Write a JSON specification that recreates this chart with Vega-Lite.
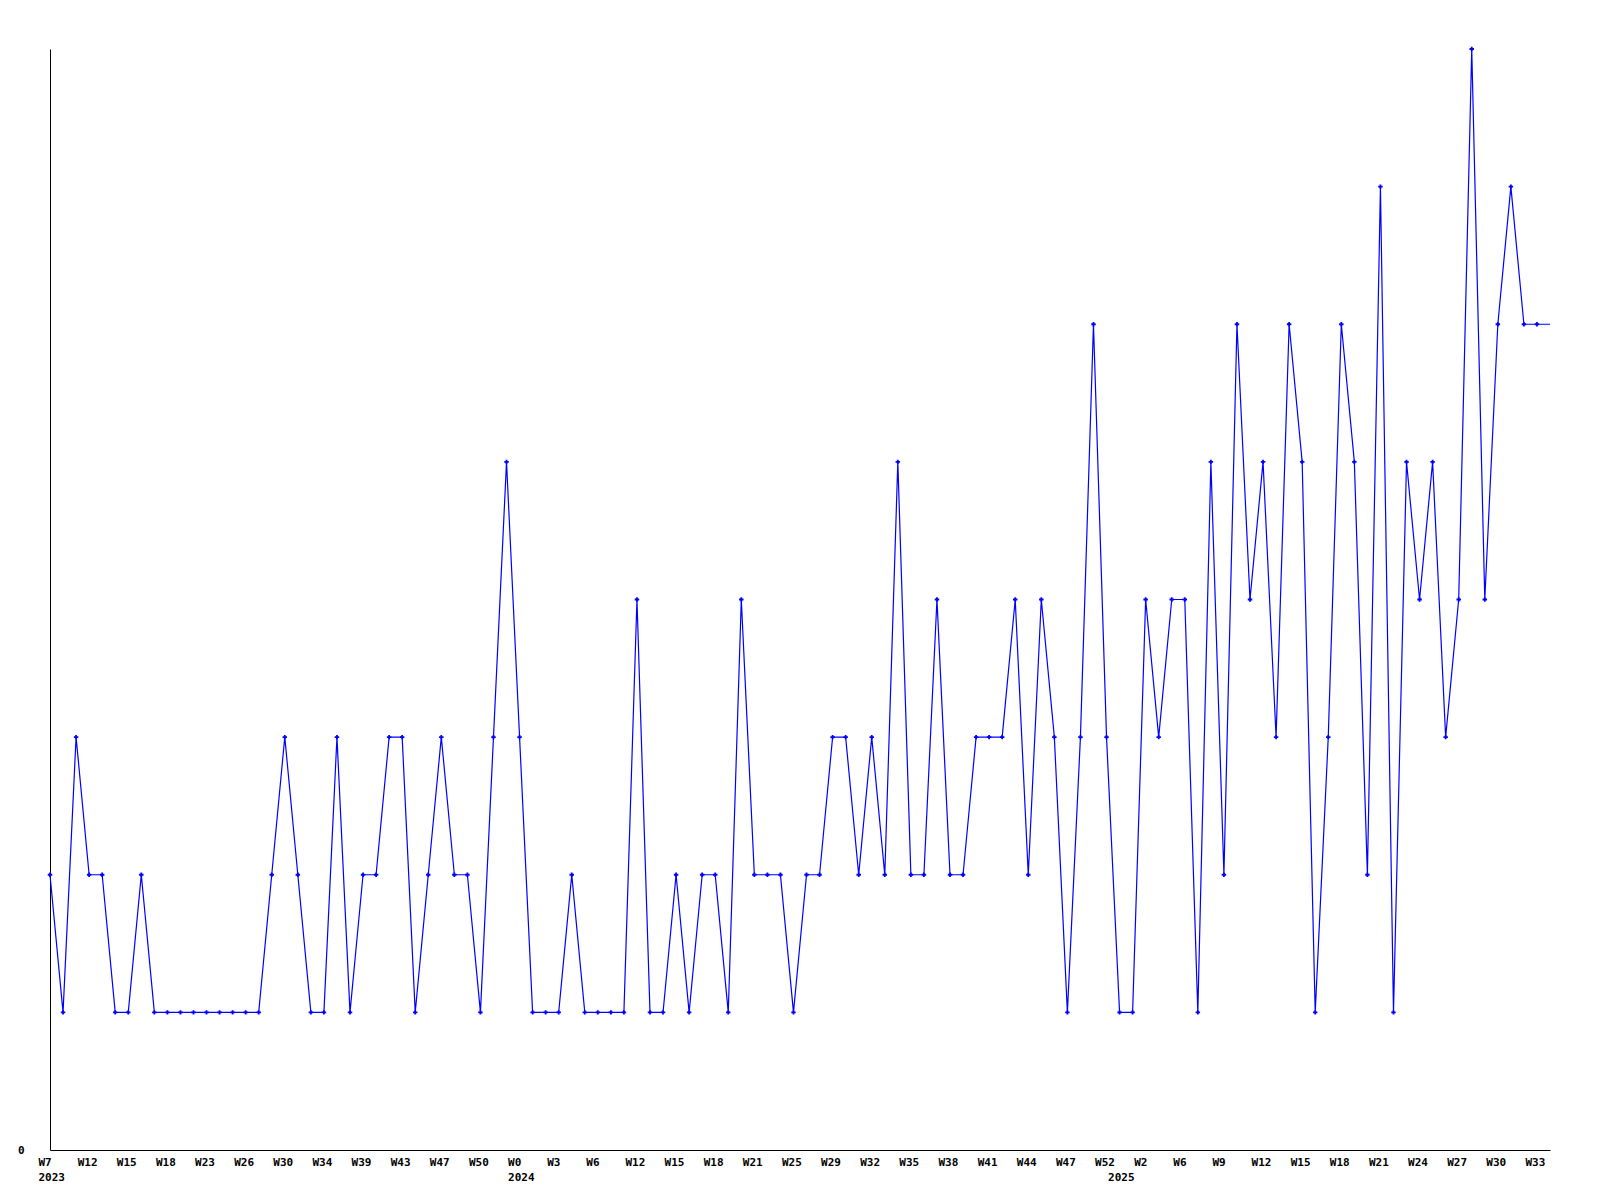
{
  "$schema": "https://vega.github.io/schema/vega-lite/v6.json",
  "width": 1500,
  "height": 1101,
  "autosize": {"type": "none"},
  "padding": {"left": 50, "top": 49, "right": 50, "bottom": 50},
  "background": "white",
  "config": {"view": {"stroke": null}},
  "data": {"values": [
    {"i":0,"v":2},{"i":1,"v":1},{"i":2,"v":3},{"i":3,"v":2},{"i":4,"v":2},{"i":5,"v":1},{"i":6,"v":1},{"i":7,"v":2},{"i":8,"v":1},{"i":9,"v":1},
    {"i":10,"v":1},{"i":11,"v":1},{"i":12,"v":1},{"i":13,"v":1},{"i":14,"v":1},{"i":15,"v":1},{"i":16,"v":1},{"i":17,"v":2},{"i":18,"v":3},{"i":19,"v":2},
    {"i":20,"v":1},{"i":21,"v":1},{"i":22,"v":3},{"i":23,"v":1},{"i":24,"v":2},{"i":25,"v":2},{"i":26,"v":3},{"i":27,"v":3},{"i":28,"v":1},{"i":29,"v":2},
    {"i":30,"v":3},{"i":31,"v":2},{"i":32,"v":2},{"i":33,"v":1},{"i":34,"v":3},{"i":35,"v":5},{"i":36,"v":3},{"i":37,"v":1},{"i":38,"v":1},{"i":39,"v":1},
    {"i":40,"v":2},{"i":41,"v":1},{"i":42,"v":1},{"i":43,"v":1},{"i":44,"v":1},{"i":45,"v":4},{"i":46,"v":1},{"i":47,"v":1},{"i":48,"v":2},{"i":49,"v":1},
    {"i":50,"v":2},{"i":51,"v":2},{"i":52,"v":1},{"i":53,"v":4},{"i":54,"v":2},{"i":55,"v":2},{"i":56,"v":2},{"i":57,"v":1},{"i":58,"v":2},{"i":59,"v":2},
    {"i":60,"v":3},{"i":61,"v":3},{"i":62,"v":2},{"i":63,"v":3},{"i":64,"v":2},{"i":65,"v":5},{"i":66,"v":2},{"i":67,"v":2},{"i":68,"v":4},{"i":69,"v":2},
    {"i":70,"v":2},{"i":71,"v":3},{"i":72,"v":3},{"i":73,"v":3},{"i":74,"v":4},{"i":75,"v":2},{"i":76,"v":4},{"i":77,"v":3},{"i":78,"v":1},{"i":79,"v":3},
    {"i":80,"v":6},{"i":81,"v":3},{"i":82,"v":1},{"i":83,"v":1},{"i":84,"v":4},{"i":85,"v":3},{"i":86,"v":4},{"i":87,"v":4},{"i":88,"v":1},{"i":89,"v":5},
    {"i":90,"v":2},{"i":91,"v":6},{"i":92,"v":4},{"i":93,"v":5},{"i":94,"v":3},{"i":95,"v":6},{"i":96,"v":5},{"i":97,"v":1},{"i":98,"v":3},{"i":99,"v":6},
    {"i":100,"v":5},{"i":101,"v":2},{"i":102,"v":7},{"i":103,"v":1},{"i":104,"v":5},{"i":105,"v":4},{"i":106,"v":5},{"i":107,"v":3},{"i":108,"v":4},{"i":109,"v":8},
    {"i":110,"v":4},{"i":111,"v":6},{"i":112,"v":7},{"i":113,"v":6},{"i":114,"v":6},{"i":115,"v":6}
  ]},
  "encoding": {
    "x": {
      "field": "i", "type": "quantitative",
      "scale": {"domain": [0, 115], "nice": false, "zero": false},
      "axis": {
        "title": null, "grid": false, "ticks": false,
        "domainColor": "black", "domainWidth": 1,
        "values": [0,3,6,9,12,15,18,21,24,27,30,33,36,39,42,45,48,51,54,57,60,63,66,69,72,75,78,81,82,84,87,90,93,96,99,102,105,108,111,114],
        "labelExpr": "datum.value == 82 ? ['', '2025'] : datum.value == 0 ? ['W7', '2023'] : datum.value == 36 ? ['W0', '2024'] : ['W7','W12','W15','W18','W23','W26','W30','W34','W39','W43','W47','W50','W0','W3','W6','W12','W15','W18','W21','W25','W29','W32','W35','W38','W41','W44','W47','W52','W2','W6','W9','W12','W15','W18','W21','W24','W27','W30','W33'][datum.value / 3]",
        "labelAlign": "left", "labelOffset": -12, "labelBaseline": "top", "labelPadding": 6,
        "labelLineHeight": 15, "labelOverlap": false, "labelFlush": false,
        "labelFont": "DejaVu Sans Mono", "labelFontWeight": "bold", "labelFontSize": 11, "labelColor": "black"
      }
    },
    "y": {
      "field": "v", "type": "quantitative",
      "scale": {"domain": [0, 8], "nice": false},
      "axis": {
        "title": null, "grid": false, "ticks": false, "values": [0],
        "domainColor": "black", "domainWidth": 1,
        "labelPadding": 26, "labelFont": "DejaVu Sans Mono", "labelFontWeight": "bold", "labelFontSize": 11, "labelColor": "black"
      }
    }
  },
  "layer": [
    {"mark": {"type": "line", "color": "#0000ff", "strokeWidth": 1.2}},
    {"transform": [{"filter": "datum.i < 115"}],
     "mark": {"type": "point", "shape": "cross", "size": 20, "filled": true, "color": "#0000ff", "opacity": 1}}
  ]
}
